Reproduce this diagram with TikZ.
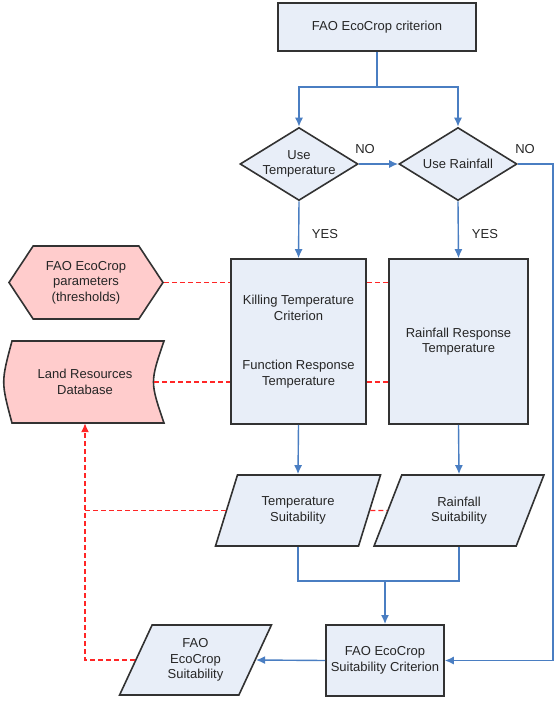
\documentclass[tikz,border=0pt]{standalone}
\usepackage{fontspec}
\setmainfont{Liberation Sans}
\usetikzlibrary{positioning,
        shapes,
        arrows.meta}
\definecolor{boxblue}{RGB}{232,238,248}
\definecolor{linkblue}{RGB}{74,126,194}
\definecolor{parampink}{RGB}{255,204,204}
\definecolor{edgegray}{RGB}{50,50,50}

\begin{document}
\begin{tikzpicture}[x=1pt,y=-1pt,
        every node/.style={font=\fontsize{13}{15.5}\selectfont,text=black!85,align=center,inner sep=0pt},
        box/.style={rectangle,draw=edgegray,line width=1.6pt,fill=boxblue},
        choice/.style={diamond,aspect=1.6,draw=edgegray,line width=1.6pt,fill=boxblue,minimum width=118pt,minimum height=73pt},
        result/.style={trapezium,trapezium left angle=64,trapezium right angle=116,trapezium stretches=true,draw=edgegray,line width=1.6pt,fill=boxblue},
        flow/.style={draw=linkblue,line width=1.4pt,-{Latex[length=9pt,width=8pt]}},
        link/.style={draw=red!85,line width=1.4pt,dash pattern=on 5pt off 3pt}]
            \useasboundingbox (0,0) rectangle (559,702);
            \node [box,minimum width=198pt,minimum height=48pt] (FAOcrit) at (377,27) {FAO EcoCrop criterion};
            \node [choice] (UseT) at (299,164) {Use\\Temperature};
            \node [choice] (UseR) at (458,164) {Use Rainfall};
            \node (noT) at (365,149) {NO};
            \node (noR) at (525,149) {NO};
            \node (yesT) at (325,234) {YES};
            \node (yesR) at (485,234) {YES};
            \node [box,minimum width=135pt,minimum height=165pt] (KillT) at (298.5,341.5) {Killing Temperature\\Criterion\\[34pt]Function Response\\Temperature};
            \node [box,minimum width=139pt,minimum height=165pt] (RainR) at (458.5,341.5) {Rainfall Response\\Temperature};
            \node [signal,signal to=east and west,signal pointer angle=113,draw=edgegray,line width=1.6pt,fill=parampink,minimum width=154pt,minimum height=73pt] (params) at (86,282.5) {FAO EcoCrop\\parameters\\(thresholds)};
            \draw [fill=parampink,draw=edgegray,line width=1.6pt] (12,341) .. controls (1,382) .. (12,423) -- (164,423) .. controls (150,382) .. (164,341) -- cycle;
            \node [minimum width=138pt,minimum height=82pt] (LandDB) at (85,382) {Land Resources\\Database};
            \node [result,minimum width=166pt,minimum height=71pt] (TSuit) at (298,510.5) {Temperature\\Suitability};
            \node [result,minimum width=170pt,minimum height=71pt] (RSuit) at (459,510.5) {Rainfall\\Suitability};
            \node [box,minimum width=118pt,minimum height=71pt] (SuitCrit) at (385,660.5) {FAO EcoCrop\\Suitability Criterion};
            \node [result,minimum width=153pt,minimum height=70pt] (FAOSuit) at (195.5,660) {FAO\\EcoCrop\\Suitability};

            \coordinate (split) at (377,87);
            \coordinate (join) at (385,581);
            \coordinate (bypass) at (553,164);

            \draw [flow] (FAOcrit.south) -- (split) -| (UseT.north);
            \draw [flow] (split) -| (UseR.north);
            \draw [flow] (UseT.east) -- (UseR.west);
            \draw [flow] (UseR.east) -- (bypass) |- (SuitCrit.east);
            \draw [flow] (UseT.south) -- (KillT.north);
            \draw [flow] (UseR.south) -- (RainR.north);
            \draw [flow] (KillT.south) -- (TSuit.north);
            \draw [flow] (RainR.south) -- (RSuit.north);
            \draw [draw=linkblue,line width=1.4pt] (TSuit.south) |- (join) -| (RSuit.south);
            \draw [flow,line width=2.2pt] (join) -- (SuitCrit.north);
            \draw [flow] (SuitCrit.west) -- (FAOSuit.east);

            \draw [link] (params.east) -- (KillT.west |- params.east);
            \draw [link] (KillT.east |- params.east) -- (RainR.west |- params.east);
            \draw [link] (LandDB.east) -- (KillT.west |- LandDB.east);
            \draw [link] (KillT.east |- LandDB.east) -- (RainR.west |- LandDB.east);
            \draw [link] (TSuit.east) -- (RSuit.west);
            \draw [link] (TSuit.west) -- (LandDB.south |- TSuit.west);
            \draw [link,-{Latex[length=9pt,width=8pt]}] (FAOSuit.west) -| (LandDB.south);
        \end{tikzpicture}
\end{document}
